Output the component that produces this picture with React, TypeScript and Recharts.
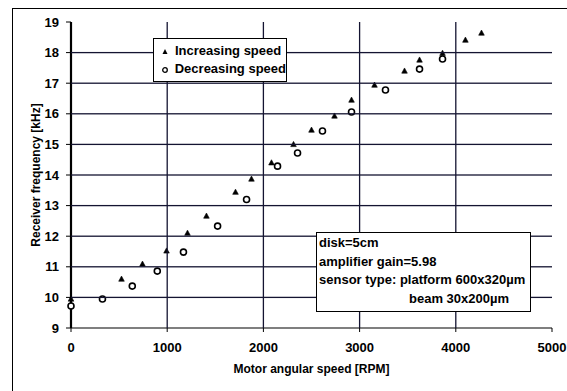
import React from "react";
import { ScatterChart, Scatter, XAxis, YAxis, Legend, Label } from "recharts";

const increasingRpm = [0, 525, 743, 993, 1211, 1408, 1710, 1876, 2084, 2313, 2500, 2739, 2916, 3155, 3467, 3623, 3862, 4100, 4267];
const increasingKHz = [9.95, 10.6, 11.09, 11.52, 12.1, 12.66, 13.44, 13.87, 14.4, 15.0, 15.47, 15.93, 16.45, 16.94, 17.4, 17.76, 17.98, 18.41, 18.64];

const decreasingRpm = [0, 327, 637, 897, 1169, 1524, 1825, 2147, 2355, 2614, 2916, 3269, 3623, 3862];
const decreasingKHz = [9.72, 9.95, 10.37, 10.86, 11.48, 12.33, 13.2, 14.29, 14.72, 15.44, 16.06, 16.78, 17.46, 17.79];

const xTicks = [0, 1000, 2000, 3000, 4000, 5000];
const yTicks = [9, 10, 11, 12, 13, 14, 15, 16, 17, 18, 19];
const gridY = [10, 11, 12, 13, 14, 15, 16, 17, 18];
const gridX = [1000, 2000, 3000, 4000];
const xDomain = [0, 5000];
const yDomain = [9, 19];

const seriesNames = ["Increasing speed", "Decreasing speed"];
const noteLines = ["disk=5cm", "amplifier gain=5.98", "sensor type: platform 600x320\u00b5m", "beam 30x200\u00b5m"];

const increasingData = increasingRpm.map((x, i) => ({ x, y: increasingKHz[i] }));
const decreasingData = decreasingRpm.map((x, i) => ({ x, y: decreasingKHz[i] }));

const FONT = "'Liberation Sans', Arial, Helvetica, sans-serif";
const GRID_COLOR = "#141432";

const CHART_W = 567;
const CHART_H = 391;
const MARGIN = { top: 22, right: 15, bottom: 0, left: 0 };
const Y_AXIS_W = 71;
const X_AXIS_H = 63;
const PLOT_W = CHART_W - MARGIN.left - MARGIN.right - Y_AXIS_W;
const PLOT_H = CHART_H - MARGIN.top - MARGIN.bottom - X_AXIS_H;
const X_TICK_SIZE = 4;
const X_TICK_MARGIN = 11;
const Y_TICK_SIZE = 5;
const Y_TICK_MARGIN = 7;

const Triangle = (props: any) => {
  const { cx, cy } = props;
  if (cx == null || cy == null) return null;
  return <path d={`M${cx},${cy - 3} L${cx + 2.8},${cy + 2.2} L${cx - 2.8},${cy + 2.2} Z`} fill="#000" stroke="#000" strokeWidth={0.6} />;
};

const Circle = (props: any) => {
  const { cx, cy } = props;
  if (cx == null || cy == null) return null;
  return <circle cx={cx} cy={cy} r={3} fill="#fff" stroke="#000" strokeWidth={1.6} />;
};

const YTick = (props: any) => {
  const { x, y, payload } = props;
  const axisX = Number(x) + Y_TICK_SIZE + Y_TICK_MARGIN;
  const v = Number(payload.value);
  return (
    <g>
      {gridY.indexOf(v) >= 0 && (
        <rect x={axisX} y={Number(y) - 0.65} width={PLOT_W} height={1.3} fill={GRID_COLOR} />
      )}
      <text x={x} y={y} dy="0.355em" textAnchor="end" fill="#000" fontSize={13} fontWeight={700} fontFamily={FONT}>
        {payload.value}
      </text>
    </g>
  );
};

const XTick = (props: any) => {
  const { x, y, payload } = props;
  const axisY = Number(y) - X_TICK_SIZE - X_TICK_MARGIN;
  const v = Number(payload.value);
  return (
    <g>
      {gridX.indexOf(v) >= 0 && (
        <rect x={Number(x) - 0.65} y={axisY - PLOT_H} width={1.3} height={PLOT_H} fill={GRID_COLOR} />
      )}
      <text x={x} y={y} dy="0.71em" textAnchor="middle" fill="#000" fontSize={13} fontWeight={700} fontFamily={FONT}>
        {payload.value}
      </text>
    </g>
  );
};

const LegendBox = () => (
  <div
    style={{
      border: "1px solid #000",
      background: "#fff",
      width: 134,
      height: 44,
      boxSizing: "border-box",
      fontFamily: FONT,
      fontSize: 13,
      fontWeight: 700,
      color: "#000",
      padding: "3px 0 0 6px",
      lineHeight: "18px",
    }}
  >
    <div style={{ display: "flex", alignItems: "center" }}>
      <svg width={10} height={10} style={{ marginRight: 5 }}>
        <path d="M5,3 L7.5,8 L2.5,8 Z" fill="#000" />
      </svg>
      <span style={{ whiteSpace: "nowrap" }}>{seriesNames[0]}</span>
    </div>
    <div style={{ display: "flex", alignItems: "center" }}>
      <svg width={10} height={10} style={{ marginRight: 5 }}>
        <circle cx={5} cy={6} r={2.3} fill="#fff" stroke="#000" strokeWidth={1.3} />
      </svg>
      <span style={{ whiteSpace: "nowrap" }}>{seriesNames[1]}</span>
    </div>
  </div>
);

const YTitle = () => (
  <text
    x={36}
    y={175}
    transform="rotate(-90, 36, 175)"
    textAnchor="middle"
    dominantBaseline="central"
    fontFamily={FONT}
    fontSize={12}
    fontWeight={700}
    fill="#000"
  >
    Receiver frequency [kHz]
  </text>
);

export default function App() {
  return (
    <div style={{ position: "absolute", left: 0, top: 0, width: CHART_W, height: CHART_H, background: "#fff" }}>
      <ScatterChart width={CHART_W} height={CHART_H} margin={MARGIN}>
        <XAxis
          type="number"
          dataKey="x"
          domain={xDomain}
          ticks={xTicks}
          interval={0}
          height={X_AXIS_H}
          tickSize={X_TICK_SIZE}
          tickMargin={X_TICK_MARGIN}
          axisLine={{ stroke: "#000", strokeWidth: 1.2 }}
          tickLine={{ stroke: "#000" }}
          tick={<XTick />}
        >
          <Label
            value="Motor angular speed [RPM]"
            position="insideBottom"
            offset={18}
            style={{ fill: "#000", fontSize: 12, fontWeight: 700, fontFamily: FONT }}
          />
        </XAxis>
        <YAxis
          type="number"
          dataKey="y"
          domain={yDomain}
          ticks={yTicks}
          interval={0}
          width={Y_AXIS_W}
          tickSize={Y_TICK_SIZE}
          tickMargin={Y_TICK_MARGIN}
          axisLine={{ stroke: "#000", strokeWidth: 2.2 }}
          tickLine={{ stroke: "#000" }}
          tick={<YTick />}
        >
          <Label content={<YTitle />} />
        </YAxis>
        <Legend
          layout="horizontal"
          verticalAlign="middle"
          align="center"
          content={<LegendBox />}
          wrapperStyle={{ position: "absolute", left: 153, top: 38, width: 134, height: 44 }}
        />
        <Scatter name={seriesNames[0]} data={increasingData} shape={<Triangle />} isAnimationActive={false} />
        <Scatter name={seriesNames[1]} data={decreasingData} shape={<Circle />} isAnimationActive={false} />
      </ScatterChart>
      <svg width={CHART_W} height={CHART_H} style={{ position: "absolute", left: 0, top: 0, pointerEvents: "none" }}>
        <rect x={12} y={8} width={CHART_W - 12} height={1} fill="#000" />
        <rect x={12} y={8} width={1} height={CHART_H - 8} fill="#000" />
      </svg>
      <div
        style={{
          position: "absolute",
          left: 316,
          top: 232,
          width: 215,
          height: 80,
          boxSizing: "border-box",
          border: "1px solid #000",
          background: "#fff",
          fontFamily: FONT,
          fontSize: 13,
          fontWeight: 700,
          color: "#000",
          lineHeight: "18.5px",
          padding: "1px 2px 0 2px",
          whiteSpace: "nowrap",
        }}
      >
        <div>{noteLines[0]}</div>
        <div>{noteLines[1]}</div>
        <div>{noteLines[2]}</div>
        <div style={{ paddingLeft: 90 }}>{noteLines[3]}</div>
      </div>
    </div>
  );
}
